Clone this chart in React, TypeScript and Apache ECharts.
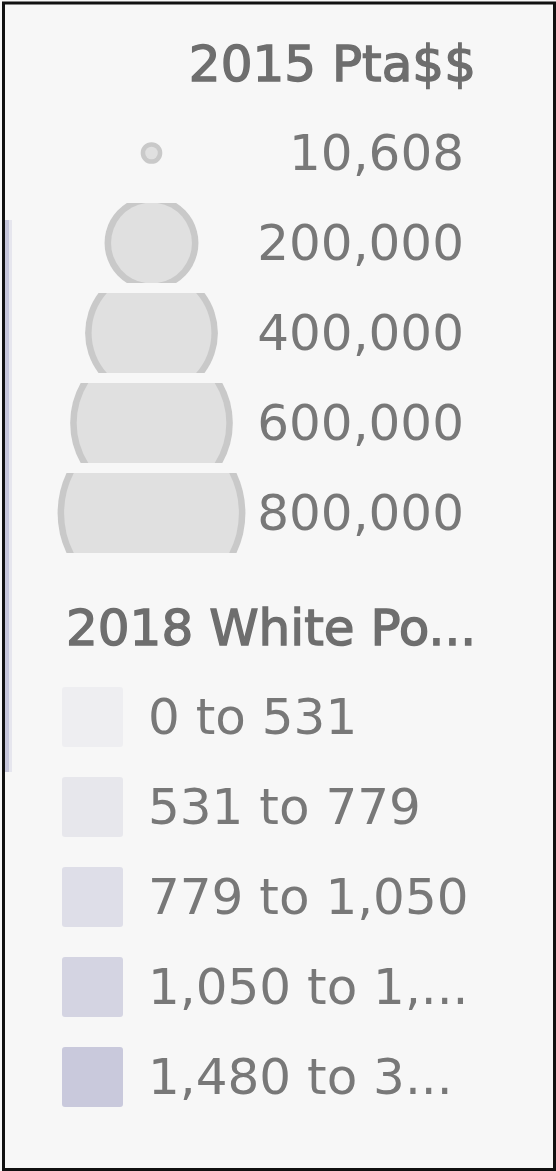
import React, { useEffect, useRef } from "react";
import * as echarts from "echarts";

// ---- data ----
const sizeTitle = "2015 Pta$$";
const sizeLabels = ["10,608", "200,000", "400,000", "600,000", "800,000"];
const sizeValues = [10608, 200000, 400000, 600000, 800000];

const colorTitle = "2018 White Po...";
const colorLabels = ["0 to 531", "531 to 779", "779 to 1,050", "1,050 to 1,...", "1,480 to 3..."];
const colorMins = [0, 531, 779, 1050, 1480];
const colorMaxs = [531, 779, 1050, 1480, 3000];
const colorSwatches = ["#eeeef1", "#e7e7ec", "#dedee8", "#d4d4e2", "#c9c9dc"];

// ---- styling ----
const FONT = "DejaVu Sans";
const TEXT_COLOR = "#787878";
const TITLE_COLOR = "#6e6e6e";
const RADIUS_PER_SQRT = 0.105;
const BAND_HALF = 40;
const RING = 6.5;

function clippedDisk(cx: number, cy: number, r: number, h: number): string {
  if (r <= h) {
    return `M${cx - r},${cy} A${r},${r} 0 1 1 ${cx + r},${cy} A${r},${r} 0 1 1 ${cx - r},${cy} Z`;
  }
  const dx = Math.sqrt(r * r - h * h);
  return `M${cx - dx},${cy - h} L${cx + dx},${cy - h} A${r},${r} 0 0 1 ${cx + dx},${cy + h} L${cx - dx},${cy + h} A${r},${r} 0 0 1 ${cx - dx},${cy - h} Z`;
}

export default function App() {
  const ref = useRef<HTMLDivElement>(null);
  useEffect(() => {
    if (!ref.current) return;
    const chart = echarts.init(ref.current, undefined, { renderer: "svg" });
    const option: any = {
      animation: false,
      backgroundColor: "#f7f7f7",
      grid: [
        { left: 51.5, width: 200, top: 108, height: 450 },
        { left: 470, width: 10, top: 108, height: 450 },
      ],
      xAxis: [
        { type: "category", gridIndex: 0, data: [sizeTitle], show: false },
        { type: "category", gridIndex: 1, data: [sizeTitle], show: false },
      ],
      yAxis: [
        { type: "category", gridIndex: 0, data: sizeLabels, inverse: true, show: false },
        {
          type: "category",
          gridIndex: 1,
          data: sizeLabels,
          inverse: true,
          position: "left",
          axisLine: { show: false },
          axisTick: { show: false },
          splitLine: { show: false },
          axisLabel: {
            margin: 6,
            fontSize: 50,
            fontFamily: FONT,
            color: TEXT_COLOR,
          },
        },
      ],
      visualMap: {
        type: "piecewise",
        seriesIndex: [],
        orient: "vertical",
        inverse: true,
        left: 62,
        top: 687,
        padding: 0,
        itemWidth: 61,
        itemHeight: 60,
        itemGap: 30,
        textGap: 25,
        itemSymbol: "path://M3,0H58A3,3 0 0 1 61,3V57A3,3 0 0 1 58,60H3A3,3 0 0 1 0,57V3A3,3 0 0 1 3,0Z",
        selectedMode: false,
        hoverLink: false,
        pieces: colorMins.map((m, i) => ({
          min: m,
          max: colorMaxs[i],
          label: colorLabels[i],
          color: colorSwatches[i],
        })),
        textStyle: { fontSize: 50, fontFamily: FONT, color: TEXT_COLOR },
      },
      series: [
        {
          type: "custom",
          xAxisIndex: 0,
          yAxisIndex: 0,
          silent: true,
          clip: false,
          data: sizeValues.map((v, i) => [0, i, v]),
          encode: { x: 0, y: 1 },
          renderItem: (params: any, api: any) => {
            const p = api.coord([api.value(0), api.value(1)]);
            const R = RADIUS_PER_SQRT * Math.sqrt(api.value(2));
            const ring = R < 20 ? 4.5 : RING;
            return {
              type: "group",
              children: [
                {
                  type: "path",
                  shape: { pathData: clippedDisk(p[0], p[1], R, BAND_HALF) },
                  style: { fill: "#c9c9c9" },
                },
                {
                  type: "path",
                  shape: { pathData: clippedDisk(p[0], p[1], Math.max(R - ring, 0.5), BAND_HALF) },
                  style: { fill: "#e0e0e0" },
                },
              ],
            };
          },
        },
      ],
      graphic: [
        {
          type: "rect",
          shape: { x: 5, y: 220, width: 4, height: 552 },
          style: { fill: "#c6c6da" },
          silent: true,
        },
        {
          type: "rect",
          shape: { x: 9, y: 220, width: 3, height: 552 },
          style: { fill: "#e6e6ee" },
          silent: true,
        },
        {
          type: "rect",
          shape: { x: 3.5, y: 3, width: 551, height: 1166.5 },
          style: { fill: "none", stroke: "#111111", lineWidth: 3 },
          silent: true,
        },
        {
          type: "text",
          x: 476,
          y: 64,
          style: {
            text: sizeTitle,
            fontSize: 50,
            fontFamily: FONT,
            fill: TITLE_COLOR,
            stroke: TITLE_COLOR,
            lineWidth: 1.4,
            align: "right",
            verticalAlign: "middle",
            textAlign: "right",
            textVerticalAlign: "middle",
          },
          silent: true,
        },
        {
          type: "text",
          x: 66,
          y: 628,
          style: {
            text: colorTitle,
            fontSize: 50,
            fontFamily: FONT,
            fill: TITLE_COLOR,
            stroke: TITLE_COLOR,
            lineWidth: 1.4,
            align: "left",
            verticalAlign: "middle",
            textAlign: "left",
            textVerticalAlign: "middle",
          },
          silent: true,
        },
      ],
    };
    chart.setOption(option);
    return () => chart.dispose();
  }, []);
  return (
    <div
      ref={ref}
      style={{ position: "absolute", left: 0, top: 0, width: 556, height: 1171 }}
    />
  );
}
